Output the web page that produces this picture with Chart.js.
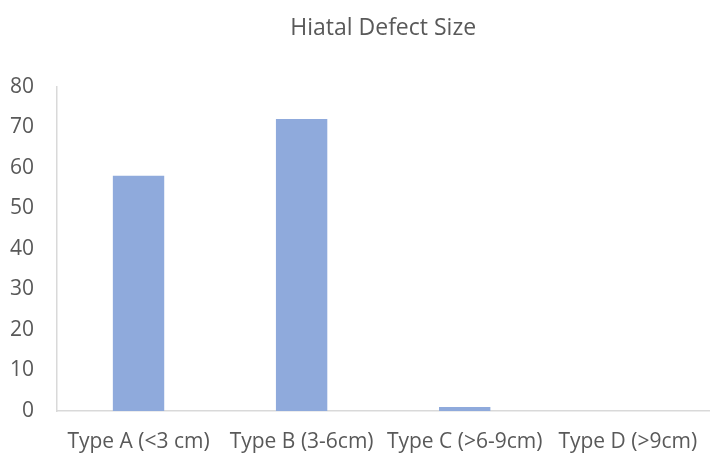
<!DOCTYPE html>
<html>
<head>
<meta charset="utf-8">
<script src="https://cdn.jsdelivr.net/npm/chart.js@4"></script>
<style>
  html, body { margin: 0; padding: 0; background: #fff; }
  #wrap { width: 716px; height: 458px; }
</style>
</head>
<body>
<div id="wrap"><canvas id="chart"></canvas></div>
<script>
// Hiatal defect size counts
const categories = ['Type A (<3 cm)', 'Type B (3-6cm)', 'Type C (>6-9cm)', 'Type D (>9cm)'];
const counts = [58, 72, 1, 0];
const yTicks = [0, 10, 20, 30, 40, 50, 60, 70, 80];

const fontFamily = '"Open Sans", sans-serif';

const ctx = document.getElementById('chart').getContext('2d');
new Chart(ctx, {
    type: 'bar',
    data: {
        labels: categories,
        datasets: [{
            data: counts,
            backgroundColor: '#8faadc',
            borderWidth: 0,
            barPercentage: 0.63,
            categoryPercentage: 0.5
        }]
    },
    options: {
        responsive: true,
        maintainAspectRatio: false,
        animation: false,
        layout: { padding: { left: 0, right: 6, top: 0, bottom: 0 } },
        plugins: {
            legend: { display: false },
            tooltip: { enabled: false },
            title: {
                display: true,
                fullSize: false,
                text: 'Hiatal Defect Size',
                color: '#595959',
                font: { family: fontFamily, size: 23, weight: 'normal' },
                padding: { top: 15, bottom: 44 }
            }
        },
        scales: {
            x: {
                grid: { display: false, drawTicks: false },
                border: { display: true, color: '#d9d9d9', width: 1.5 },
                afterFit: axis => { axis.height = 47; },
                ticks: {
                    color: '#595959',
                    font: { family: fontFamily, size: 21 },
                    padding: 18,
                    maxRotation: 0
                }
            },
            y: {
                min: yTicks[0],
                max: yTicks[yTicks.length - 1],
                grid: { display: false, drawTicks: false },
                border: { display: true, color: '#d9d9d9', width: 1.5 },
                afterBuildTicks: axis => { axis.ticks = yTicks.map(v => ({ value: v })); },
                afterFit: axis => { axis.width = 57; },
                ticks: {
                    color: '#595959',
                    font: { family: fontFamily, size: 21 },
                    padding: 23
                }
            }
        }
    }
});
</script>
</body>
</html>
